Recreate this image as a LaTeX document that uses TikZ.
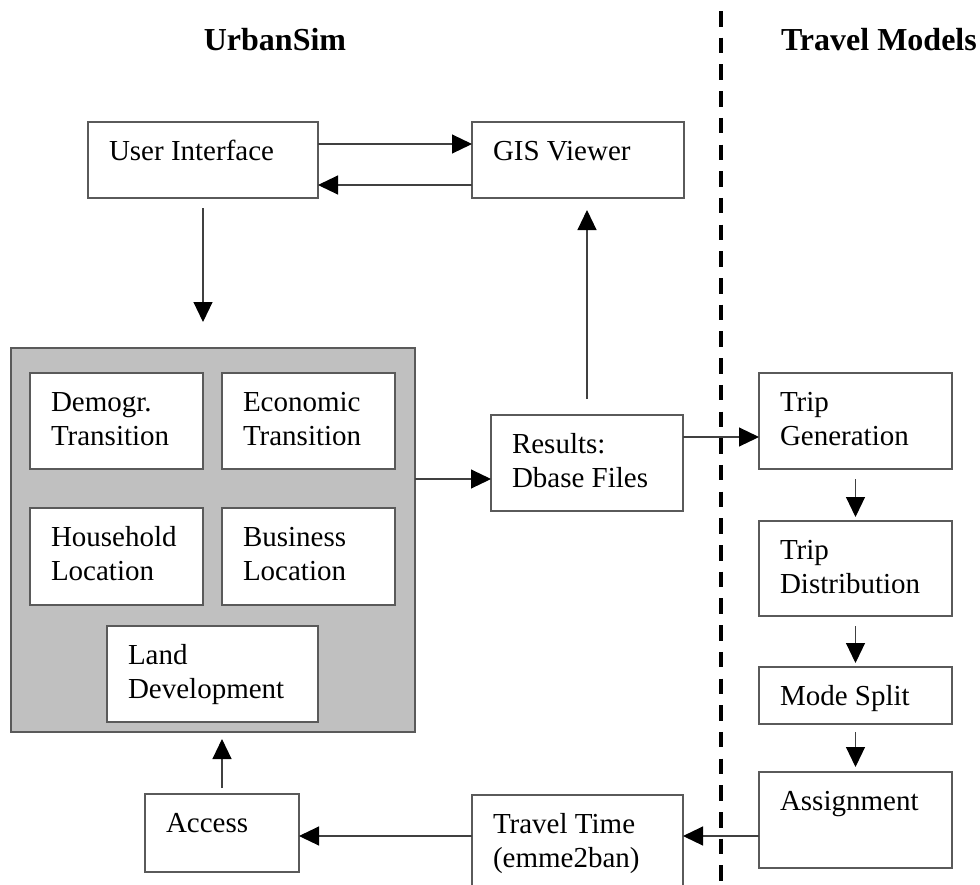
\documentclass[tikz,border=0pt]{standalone}
\usepackage{fontspec}
\setmainfont{Liberation Serif}
\usetikzlibrary{arrows.meta,calc}
\definecolor{panelgray}{RGB}{192,192,192}
\definecolor{edgegray}{RGB}{90,90,90}
\tikzset{
  box/.style={rectangle, draw=edgegray, line width=1.2pt, fill=white, inner sep=0pt, outer sep=0pt},
  txt/.style={anchor=base west, inner sep=0pt, outer sep=0pt, font=\fontsize{29}{34}\selectfont},
  ttl/.style={inner sep=0pt, outer sep=0pt, font=\fontsize{32}{36}\selectfont\bfseries},
  arr/.style={draw=black!75, line width=1.1pt, -{Triangle[length=20pt,width=19pt,color=black]}},
  divider/.style={line width=4pt, dash pattern=on 15.5pt off 11.2pt}
}
\newcommand\mkbox[6]{%
  \node[box, minimum width={#4-#2}, minimum height={#5-#3}] (#1) at ({(#2+#4)/2},{(#3+#5)/2}) {};
  \node[txt] (#1-t) at ([xshift=21pt,yshift=-38pt]#1.north west) {\begin{tabular}[t]{@{}l@{}}#6\end{tabular}};
}
\begin{document}
\begin{tikzpicture}[x=1pt,y=-1pt]
\useasboundingbox (0,0) rectangle (980,884);
\clip (0,0) rectangle (980,884);

% divider
\coordinate (dtop) at (721,11);
\coordinate (dbot) at (721,884);
\draw[divider] (dtop) -- (dbot);

% titles
\node[ttl, anchor=base] (t-urban) at (275,50) {UrbanSim};
\node[ttl, anchor=base west] (t-travel) at (781,50) {Travel Models};

% top boxes
\mkbox{ui}{88}{122}{318}{198}{User Interface}
\mkbox{gis}{472}{122}{684}{198}{GIS Viewer}

% UrbanSim core panel
\node[box, fill=panelgray, minimum width=404, minimum height=384] (core) at (213,540) {};
\mkbox{dem}{30}{373}{203}{469}{Demogr.\\Transition}
\mkbox{eco}{222}{373}{395}{469}{Economic\\Transition}
\mkbox{hh}{30}{508}{203}{605}{Household\\Location}
\mkbox{bus}{222}{508}{395}{605}{Business\\Location}
\mkbox{land}{107}{626}{318}{722}{Land\\Development}

% results
\mkbox{res}{491}{415}{683}{511}{Results:\\Dbase Files}

% travel models
\mkbox{tg}{759}{373}{952}{469}{Trip\\Generation}
\mkbox{td}{759}{521}{952}{616}{Trip\\Distribution}
\mkbox{ms}{759}{667}{952}{724}{Mode Split}
\mkbox{asg}{759}{772}{952}{868}{Assignment}

% bottom
\mkbox{tt}{472}{795}{683}{900}{Travel Time\\(emme2ban)}
\mkbox{acc}{145}{794}{299}{872}{Access}

% connectors
\draw[arr] ([yshift=-22pt]ui.north east) -- ([yshift=-22pt]gis.north west);
\draw[arr] ([yshift=-63pt]gis.north west) -- ([yshift=-63pt]ui.north east);
\draw[arr, shorten <=10pt, shorten >=26pt] (ui.south) -- (ui.south |- core.north);
\draw[arr, shorten <=16pt, shorten >=12pt] (res.north) -- (res.north |- gis.south);
\coordinate (c1) at ([yshift=-64pt]res.north west);
\draw[arr] (core.east |- c1) -- (c1);
\coordinate (c2) at ([yshift=-22pt]res.north east);
\draw[arr] (c2) -- (c2 -| tg.west);
\draw[arr, shorten <=10pt, shorten >=4pt] (tg.south) -- (td.north);
\draw[arr, shorten <=10pt, shorten >=4pt] (td.south) -- (ms.north);
\draw[arr, shorten <=8pt, shorten >=5pt] (ms.south) -- (asg.north);
\coordinate (c3) at ([yshift=-64pt]asg.north west);
\draw[arr] (c3) -- (c3 -| tt.east);
\draw[arr] (tt.west |- c3) -- (acc.east |- c3);
\draw[arr, shorten <=6pt, shorten >=7pt] (acc.north) -- (acc.north |- core.south);
\end{tikzpicture}
\end{document}
